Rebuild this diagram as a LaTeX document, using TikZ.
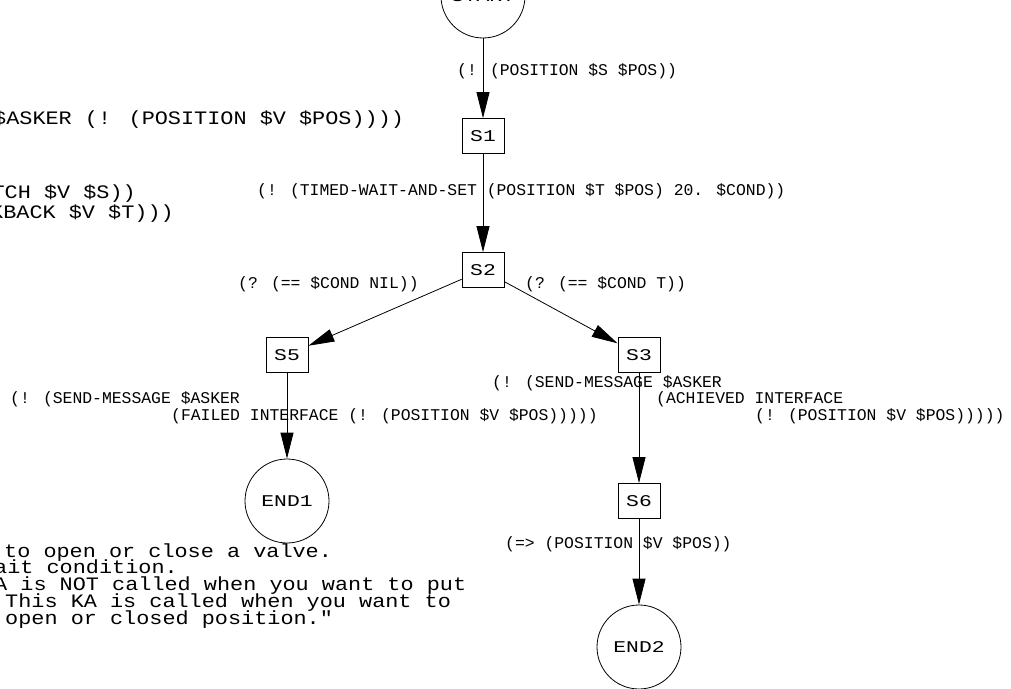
\documentclass[tikz,border=0pt]{standalone}
\usepackage{fontspec}
\usepackage{tikz}
\usetikzlibrary{arrows.meta}
\newfontfamily\labelfont{Liberation Mono}
\newfontfamily\statefont[FakeStretch=1.3]{Liberation Mono}
\newfontfamily\notefont[FakeStretch=1.15]{Liberation Mono}

\begin{document}
\begin{tikzpicture}[x=1pt,y=-1pt,
    state/.style={draw,circle,line width=0.8pt,minimum size=\D,inner sep=0pt,
      font=\statefont\fontsize{16.4}{18}\selectfont},
    stepbox/.style={draw,rectangle,line width=0.8pt,minimum width=\W,minimum height=\H,
      inner sep=0pt,font=\statefont\fontsize{16.4}{18}\selectfont},
    trans/.style={line width=0.8pt,-{Triangle[length=26pt,width=13pt]}},
    lbl/.style={anchor=base west,inner sep=0pt,font=\labelfont\fontsize{16.4}{16.5}\selectfont},
    note/.style={inner sep=0pt,font=\notefont\fontsize{19}{17}\selectfont}]
    \def\D{84pt} % state circle diameter
    \def\W{42pt} % box width
    \def\H{35pt} % box height

    \useasboundingbox (0,0) rectangle (1011,688);
    \clip (0,0) rectangle (1011,688);

    % states
    \node[state] (start) at (483,-4) {START};
    \node[stepbox] (s1) at (483,136) {S1};
    \node[stepbox] (s2) at (483,270) {S2};
    \node[stepbox] (s5) at (287,355) {S5};
    \node[stepbox] (s3) at (639,355) {S3};
    \node[stepbox] (s6) at (639,501) {S6};
    \node[state] (end1) at (287,501) {END1};
    \node[state] (end2) at (639,647) {END2};

    % transitions
    \draw[trans] (start) -- (s1);
    \draw[trans] (s1) -- (s2);
    \draw[trans] (s2) -- (s5);
    \draw[trans] (s2) -- (s3);
    \draw[trans] (s5) -- (end1);
    \draw[trans] (s3) -- (s6);
    \draw[trans] (s6) -- (end2);

    % edge labels
    \node[lbl] (lstart) at (457,75.5) {(! (POSITION \$S \$POS))};
    \node[lbl] (ls1) at (257,195.5) {(! (TIMED-WAIT-AND-SET (POSITION \$T \$POS) 20. \$COND))};
    \node[lbl] (lnil) at (238,288.5) {(? (== \$COND NIL))};
    \node[lbl] (lt) at (525,288.5) {(? (== \$COND T))};
    \node[lbl] (ls5a) at (10,403.5) {(! (SEND-MESSAGE \$ASKER};
    \node[lbl] (ls5b) at (171,420.5) {(FAILED INTERFACE (! (POSITION \$V \$POS)))))};
    \node[lbl] (ls3a) at (492,387.5) {(! (SEND-MESSAGE \$ASKER};
    \node[lbl] (ls3b) at (656,403.5) {(ACHIEVED INTERFACE};
    \node[lbl] (ls3c) at (755,420.5) {(! (POSITION \$V \$POS)))))};
    \node[lbl] (ls6) at (505,548.5) {(=> (POSITION \$V \$POS))};

    % text cut by the left edge
    \node[note,anchor=base west] (ctxa) at (-7,124) {\$ASKER (! (POSITION \$V \$POS))))};
    \node[note,anchor=base east] (ctxb) at (136,198) {TCH \$V \$S))};
    \node[note,anchor=base east] (ctxc) at (174,218) {KBACK \$V \$T)))};

    \node[note,anchor=base west] (doca) at (4,557) {to open or close a valve.};
    \node[note,anchor=base west] (docb) at (-6,573) {ait condition.};
    \node[note,anchor=base west] (docc) at (-6,590) {A is NOT called when you want to put};
    \node[note,anchor=base west] (docd) at (5,607) {This KA is called when you want to};
    \node[note,anchor=base west] (doce) at (5,624) {open or closed position."};
\end{tikzpicture}
\end{document}
